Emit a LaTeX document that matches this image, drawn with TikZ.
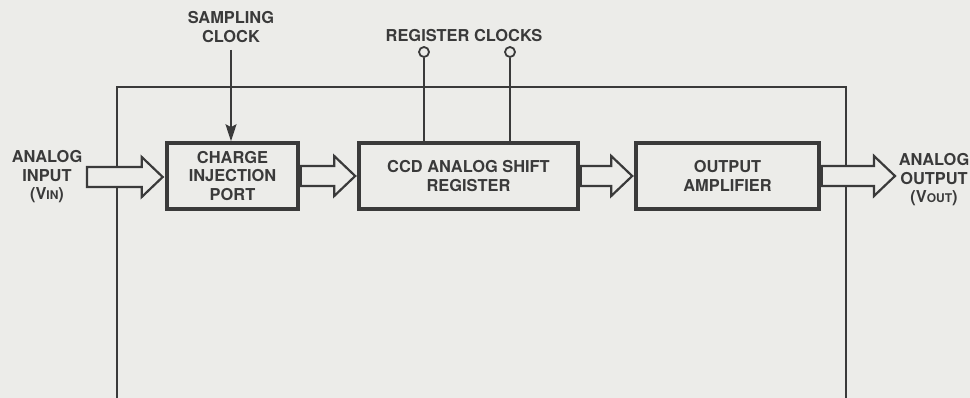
\documentclass[tikz,border=0pt]{standalone}
\usepackage{fontspec}
\setmainfont{TeX Gyre Heros}
\usetikzlibrary{calc,arrows.meta}
\definecolor{bg}{RGB}{236,236,233}
\definecolor{ink}{RGB}{58,58,58}
\newcommand\harrow[2]{%
  \draw[hollow] let \p1=(#1), \p2=(#2) in
    (\x1,\y1+10pt) -- (\x2-21pt,\y1+10pt) -- (\x2-21pt,\y1+20pt) -- (\x2,\y1)
    -- (\x2-21pt,\y1-20pt) -- (\x2-21pt,\y1-10pt) -- (\x1,\y1-10pt) -- cycle;}
\newcommand\smallc[1]{{\fontsize{12}{12}\selectfont #1}}
\begin{document}
\begin{tikzpicture}[x=1pt,y=-1pt,
  lbl/.style={font=\fontsize{16.4}{18.5}\selectfont\bfseries, text=ink, align=center, inner sep=0pt},
  blk/.style={draw=ink, line width=3.6pt, inner sep=0pt, fill=bg},
  hollow/.style={draw=ink, line width=2.2pt, fill=bg, line join=miter},
  thin/.style={draw=ink, line width=1.5pt},
  clk/.style={draw=ink, line width=1.8pt, fill=bg}]
\fill[bg] (0,0) rectangle (970,398);
\useasboundingbox (0,0) rectangle (970,398);
% frame
\coordinate (f1) at (117,400);
\coordinate (f2) at (117,87);
\coordinate (f3) at (846,87);
\coordinate (f4) at (846,400);
\draw[thin] (f1) -- (f2) -- (f3) -- (f4);
% blocks
\node[blk, minimum width=131pt, minimum height=66pt] (cip) at (232.5,176) {};
\node[lbl] at (cip.center) {CHARGE\\INJECTION\\PORT};
\node[blk, minimum width=219pt, minimum height=66pt] (ccd) at (468.5,176) {};
\node[lbl] at (ccd.center) {CCD ANALOG SHIFT\\REGISTER};
\node[blk, minimum width=183pt, minimum height=66pt] (amp) at (727.5,176) {};
\node[lbl] at (amp.center) {OUTPUT\\AMPLIFIER};
% labels
\node[lbl] (samp) at (231,27) {SAMPLING\\CLOCK};
\node[lbl] (reg) at (464,36) {REGISTER CLOCKS};
\node[lbl] (ain) at (47,177) {ANALOG\\INPUT\\(V\smallc{IN})};
\node[lbl] (aout) at (934,180) {ANALOG\\OUTPUT\\(V\smallc{OUT})};
% sampling clock
\coordinate (sc) at (231,50);
\draw[ink, line width=1.9pt, -{Stealth[length=17pt,width=11pt,inset=3pt]}] (sc) -- (sc |- cip.north);
% register clocks
\node[clk, circle, minimum size=10pt, inner sep=0pt] (c1) at (424,52) {};
\node[clk, circle, minimum size=10pt, inner sep=0pt] (c2) at (510,52) {};
\draw[ink, line width=1.9pt] (c1.south) -- (c1.south |- ccd.north);
\draw[ink, line width=1.9pt] (c2.south) -- (c2.south |- ccd.north);
% hollow arrows
\coordinate (inL) at (87,177);
\harrow{inL}{$(cip.west)+(-2.5pt,0)$}
\harrow{$(cip.east)+(1pt,0)$}{$(ccd.west)+(-2pt,0)$}
\harrow{$(ccd.east)+(1pt,0)$}{$(amp.west)+(-2pt,0)$}
\coordinate (outR) at (895,177);
\harrow{$(amp.east)+(1pt,0)$}{outR}
\end{tikzpicture}
\end{document}
